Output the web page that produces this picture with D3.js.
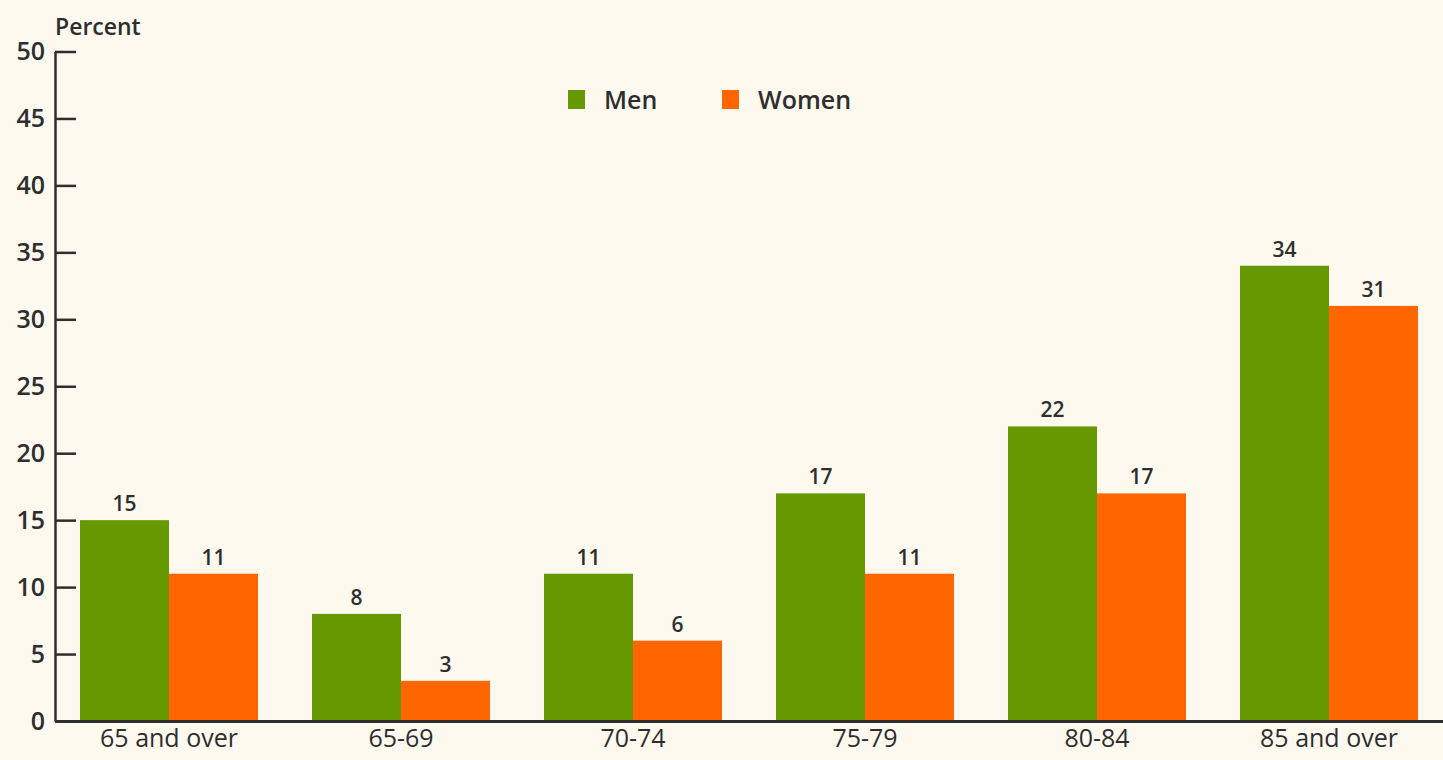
<!DOCTYPE html>
<html>
<head>
<meta charset="utf-8">
<script src="https://cdn.jsdelivr.net/npm/d3@7"></script>
<style>
  html, body { margin: 0; padding: 0; background: #fdf9ee; }
  svg { display: block; }
  text { font-family: "Open Sans", "Noto Sans", sans-serif; fill: #2e2e2e; font-weight: 600; }
</style>
</head>
<body>
<svg id="chart" width="1443" height="760"></svg>
<script>
// Age groups and percentages by sex
const categories = ["65 and over", "65-69", "70-74", "75-79", "80-84", "85 and over"];
const series = ["Men", "Women"];
const men = [15, 8, 11, 17, 22, 34];
const women = [11, 3, 6, 11, 17, 31];
const yTicks = [0, 5, 10, 15, 20, 25, 30, 35, 40, 45, 50];
const colors = ["#669900", "#ff6600"];

const values = { Men: men, Women: women };

const svg = d3.select("#chart");
const plotLeft = 55, plotRight = 1443, plotTop = 51.5, plotBottom = 721;

const x = d3.scaleBand()
  .domain(categories)
  .range([plotLeft, plotRight])
  .paddingInner(0.2328)
  .paddingOuter(0.1078);

const xs = d3.scaleBand()
  .domain(series)
  .range([0, x.bandwidth()]);

const y = d3.scaleLinear().domain([0, 50]).range([plotBottom, plotTop]);

const color = d3.scaleOrdinal().domain(series).range(colors);

// Bars
const groups = svg.append("g").selectAll("g")
  .data(categories)
  .join("g")
  .attr("transform", d => `translate(${x(d)},0)`);

groups.selectAll("rect")
  .data((c, i) => series.map(s => ({ s, v: values[s][i] })))
  .join("rect")
  .attr("x", d => xs(d.s))
  .attr("y", d => y(d.v))
  .attr("width", xs.bandwidth())
  .attr("height", d => y(0) - y(d.v))
  .attr("fill", d => color(d.s));

// Value labels
groups.selectAll("text.val")
  .data((c, i) => series.map(s => ({ s, v: values[s][i] })))
  .join("text")
  .attr("class", "val")
  .attr("x", d => xs(d.s) + xs.bandwidth() / 2)
  .attr("y", d => y(d.v) - 9)
  .attr("text-anchor", "middle")
  .style("font-size", "21px")
  .text(d => d.v);

// Y axis with ticks pointing into the plot
const yAxis = d3.axisLeft(y)
  .tickValues(yTicks)
  .tickSizeInner(-21)
  .tickSizeOuter(0)
  .tickPadding(10);

const gy = svg.append("g")
  .attr("transform", `translate(${plotLeft},0)`)
  .call(yAxis);
gy.select(".domain").attr("stroke", "#2e2e2e").attr("stroke-width", 2.5);
gy.selectAll(".tick line").attr("stroke", "#2e2e2e").attr("stroke-width", 2.5);
gy.selectAll(".tick text")
  .style("font-size", "25px")
  .style("font-family", '"Open Sans", sans-serif')
  .style("font-weight", 600)
  .attr("fill", "#2e2e2e");

// X axis baseline and category labels
const xAxis = d3.axisBottom(x).tickSize(0).tickPadding(8);
const gx = svg.append("g")
  .attr("transform", `translate(0,${plotBottom})`)
  .call(xAxis);
gx.select(".domain").attr("stroke", "#2e2e2e").attr("stroke-width", 3);
gx.selectAll(".tick text")
  .style("font-size", "25px")
  .style("font-family", '"Open Sans", sans-serif')
  .style("font-weight", 400)
  .attr("fill", "#222");

// Axis title
svg.append("text")
  .attr("x", 55)
  .attr("y", 35)
  .style("font-size", "23px")
  .text("Percent");

// Legend
const legendPos = [568, 722];
const legend = svg.append("g").selectAll("g")
  .data(series)
  .join("g")
  .attr("transform", (d, i) => `translate(${legendPos[i]},90)`);
legend.append("rect")
  .attr("width", 17)
  .attr("height", 19)
  .attr("fill", d => color(d));
legend.append("text")
  .attr("x", 36)
  .attr("y", 19)
  .style("font-size", "25px")
  .text(d => d);
</script>
</body>
</html>
